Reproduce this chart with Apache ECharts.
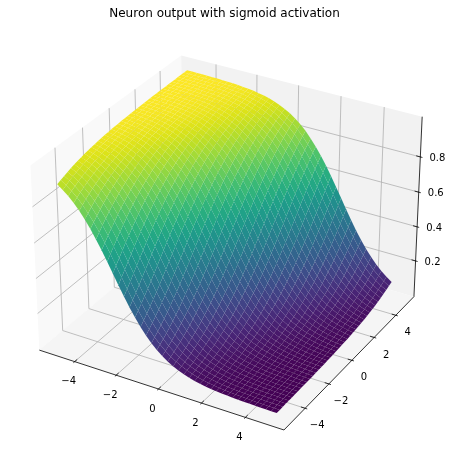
<!DOCTYPE html>
<html>
<head>
<meta charset="utf-8">
<style>html,body{margin:0;padding:0;background:#fff}#chart{width:454px;height:465px}</style>
<script src="https://cdn.jsdelivr.net/npm/echarts@6/dist/echarts.min.js"></script>
</head>
<body>
<div id="chart"></div>
<script>
// Sample positions of the surface mesh
const xValues = [-5,-4.75,-4.5,-4.25,-4,-3.75,-3.5,-3.25,-3,-2.75,-2.5,-2.25,-2,-1.75,-1.5,-1.25,-1,-0.75,-0.5,-0.25,0,0.25,0.5,0.75,1,1.25,1.5,1.75,2,2.25,2.5,2.75,3,3.25,3.5,3.75,4,4.25,4.5,4.75,5];
const yValues = [-5,-4.75,-4.5,-4.25,-4,-3.75,-3.5,-3.25,-3,-2.75,-2.5,-2.25,-2,-1.75,-1.5,-1.25,-1,-0.75,-0.5,-0.25,0,0.25,0.5,0.75,1,1.25,1.5,1.75,2,2.25,2.5,2.75,3,3.25,3.5,3.75,4,4.25,4.5,4.75,5];

// Neuron output in thousandths: one row per x, one column per y
const outputRows = [
[905,914,922,930,937,943,949,954,959,963,967,970,973,976,979,981,983,985,986,988,989,990,991,992,993,994,994,995,996,996,996,997,997,997,998,998,998,998,999,999,999],
[883,894,905,914,922,930,937,943,949,954,959,963,967,970,973,976,979,981,983,985,986,988,989,990,991,992,993,994,994,995,996,996,996,997,997,997,998,998,998,998,999],
[858,871,883,894,905,914,922,930,937,943,949,954,959,963,967,970,973,976,979,981,983,985,986,988,989,990,991,992,993,994,994,995,996,996,996,997,997,997,998,998,998],
[829,844,858,871,883,894,905,914,922,930,937,943,949,954,959,963,967,970,973,976,979,981,983,985,986,988,989,990,991,992,993,994,994,995,996,996,996,997,997,997,998],
[794,812,829,844,858,871,883,894,905,914,922,930,937,943,949,954,959,963,967,970,973,976,979,981,983,985,986,988,989,990,991,992,993,994,994,995,996,996,996,997,997],
[755,775,794,812,829,844,858,871,883,894,905,914,922,930,937,943,949,954,959,963,967,970,973,976,979,981,983,985,986,988,989,990,991,992,993,994,994,995,996,996,996],
[711,734,755,775,794,812,829,844,858,871,883,894,905,914,922,930,937,943,949,954,959,963,967,970,973,976,979,981,983,985,986,988,989,990,991,992,993,994,994,995,996],
[663,687,711,734,755,775,794,812,829,844,858,871,883,894,905,914,922,930,937,943,949,954,959,963,967,970,973,976,979,981,983,985,986,988,989,990,991,992,993,994,994],
[611,637,663,687,711,734,755,775,794,812,829,844,858,871,883,894,905,914,922,930,937,943,949,954,959,963,967,970,973,976,979,981,983,985,986,988,989,990,991,992,993],
[556,584,611,637,663,687,711,734,755,775,794,812,829,844,858,871,883,894,905,914,922,930,937,943,949,954,959,963,967,970,973,976,979,981,983,985,986,988,989,990,991],
[500,528,556,584,611,637,663,687,711,734,755,775,794,812,829,844,858,871,883,894,905,914,922,930,937,943,949,954,959,963,967,970,973,976,979,981,983,985,986,988,989],
[444,472,500,528,556,584,611,637,663,687,711,734,755,775,794,812,829,844,858,871,883,894,905,914,922,930,937,943,949,954,959,963,967,970,973,976,979,981,983,985,986],
[389,416,444,472,500,528,556,584,611,637,663,687,711,734,755,775,794,812,829,844,858,871,883,894,905,914,922,930,937,943,949,954,959,963,967,970,973,976,979,981,983],
[337,363,389,416,444,472,500,528,556,584,611,637,663,687,711,734,755,775,794,812,829,844,858,871,883,894,905,914,922,930,937,943,949,954,959,963,967,970,973,976,979],
[289,313,337,363,389,416,444,472,500,528,556,584,611,637,663,687,711,734,755,775,794,812,829,844,858,871,883,894,905,914,922,930,937,943,949,954,959,963,967,970,973],
[245,266,289,313,337,363,389,416,444,472,500,528,556,584,611,637,663,687,711,734,755,775,794,812,829,844,858,871,883,894,905,914,922,930,937,943,949,954,959,963,967],
[206,225,245,266,289,313,337,363,389,416,444,472,500,528,556,584,611,637,663,687,711,734,755,775,794,812,829,844,858,871,883,894,905,914,922,930,937,943,949,954,959],
[171,188,206,225,245,266,289,313,337,363,389,416,444,472,500,528,556,584,611,637,663,687,711,734,755,775,794,812,829,844,858,871,883,894,905,914,922,930,937,943,949],
[142,156,171,188,206,225,245,266,289,313,337,363,389,416,444,472,500,528,556,584,611,637,663,687,711,734,755,775,794,812,829,844,858,871,883,894,905,914,922,930,937],
[117,129,142,156,171,188,206,225,245,266,289,313,337,363,389,416,444,472,500,528,556,584,611,637,663,687,711,734,755,775,794,812,829,844,858,871,883,894,905,914,922],
[95,106,117,129,142,156,171,188,206,225,245,266,289,313,337,363,389,416,444,472,500,528,556,584,611,637,663,687,711,734,755,775,794,812,829,844,858,871,883,894,905],
[78,86,95,106,117,129,142,156,171,188,206,225,245,266,289,313,337,363,389,416,444,472,500,528,556,584,611,637,663,687,711,734,755,775,794,812,829,844,858,871,883],
[63,70,78,86,95,106,117,129,142,156,171,188,206,225,245,266,289,313,337,363,389,416,444,472,500,528,556,584,611,637,663,687,711,734,755,775,794,812,829,844,858],
[51,57,63,70,78,86,95,106,117,129,142,156,171,188,206,225,245,266,289,313,337,363,389,416,444,472,500,528,556,584,611,637,663,687,711,734,755,775,794,812,829],
[41,46,51,57,63,70,78,86,95,106,117,129,142,156,171,188,206,225,245,266,289,313,337,363,389,416,444,472,500,528,556,584,611,637,663,687,711,734,755,775,794],
[33,37,41,46,51,57,63,70,78,86,95,106,117,129,142,156,171,188,206,225,245,266,289,313,337,363,389,416,444,472,500,528,556,584,611,637,663,687,711,734,755],
[27,30,33,37,41,46,51,57,63,70,78,86,95,106,117,129,142,156,171,188,206,225,245,266,289,313,337,363,389,416,444,472,500,528,556,584,611,637,663,687,711],
[21,24,27,30,33,37,41,46,51,57,63,70,78,86,95,106,117,129,142,156,171,188,206,225,245,266,289,313,337,363,389,416,444,472,500,528,556,584,611,637,663],
[17,19,21,24,27,30,33,37,41,46,51,57,63,70,78,86,95,106,117,129,142,156,171,188,206,225,245,266,289,313,337,363,389,416,444,472,500,528,556,584,611],
[14,15,17,19,21,24,27,30,33,37,41,46,51,57,63,70,78,86,95,106,117,129,142,156,171,188,206,225,245,266,289,313,337,363,389,416,444,472,500,528,556],
[11,12,14,15,17,19,21,24,27,30,33,37,41,46,51,57,63,70,78,86,95,106,117,129,142,156,171,188,206,225,245,266,289,313,337,363,389,416,444,472,500],
[9,10,11,12,14,15,17,19,21,24,27,30,33,37,41,46,51,57,63,70,78,86,95,106,117,129,142,156,171,188,206,225,245,266,289,313,337,363,389,416,444],
[7,8,9,10,11,12,14,15,17,19,21,24,27,30,33,37,41,46,51,57,63,70,78,86,95,106,117,129,142,156,171,188,206,225,245,266,289,313,337,363,389],
[6,6,7,8,9,10,11,12,14,15,17,19,21,24,27,30,33,37,41,46,51,57,63,70,78,86,95,106,117,129,142,156,171,188,206,225,245,266,289,313,337],
[4,5,6,6,7,8,9,10,11,12,14,15,17,19,21,24,27,30,33,37,41,46,51,57,63,70,78,86,95,106,117,129,142,156,171,188,206,225,245,266,289],
[4,4,4,5,6,6,7,8,9,10,11,12,14,15,17,19,21,24,27,30,33,37,41,46,51,57,63,70,78,86,95,106,117,129,142,156,171,188,206,225,245],
[3,3,4,4,4,5,6,6,7,8,9,10,11,12,14,15,17,19,21,24,27,30,33,37,41,46,51,57,63,70,78,86,95,106,117,129,142,156,171,188,206],
[2,3,3,3,4,4,4,5,6,6,7,8,9,10,11,12,14,15,17,19,21,24,27,30,33,37,41,46,51,57,63,70,78,86,95,106,117,129,142,156,171],
[2,2,2,3,3,3,4,4,4,5,6,6,7,8,9,10,11,12,14,15,17,19,21,24,27,30,33,37,41,46,51,57,63,70,78,86,95,106,117,129,142],
[1,2,2,2,2,3,3,3,4,4,4,5,6,6,7,8,9,10,11,12,14,15,17,19,21,24,27,30,33,37,41,46,51,57,63,70,78,86,95,106,117],
[1,1,1,2,2,2,2,3,3,3,4,4,4,5,6,6,7,8,9,10,11,12,14,15,17,19,21,24,27,30,33,37,41,46,51,57,63,70,78,86,95]
];

const xTicks = [-4, -2, 0, 2, 4];
const yTicks = [-4, -2, 0, 2, 4];
const zTicks = [0.2, 0.4, 0.6, 0.8];
const xTickLabels = ['\u22124', '\u22122', '0', '2', '4'];
const yTickLabels = ['\u22124', '\u22122', '0', '2', '4'];
const zTickLabels = ['0.2', '0.4', '0.6', '0.8'];
const chartTitle = 'Neuron output with sigmoid activation';

// Extent of the 3D box in data units
const xRange = [-5.73, 5.73];
const yRange = [-5.73, 5.73];
const zRange = [-0.013, 1.024];

const viridis = ['#440154','#481567','#482677','#453781','#404788','#39568C','#33638D','#2D708E','#287D8E','#238A8D',
                 '#1F968B','#20A387','#29AF7F','#3CBB75','#55C667','#73D055','#95D840','#B8DE29','#DCE319','#FDE725'];

// Camera: elevation 30, azimuth -60, distance 10, box half-sizes for a 4:4:3 aspect
const BOX = [0.595, 0.595, 0.4465];
const DIST = 10;
const U = [0.8660254, 0.5, 0];
const V = [-0.25, 0.4330127, 0.8660254];
const N = [0.4330127, -0.75, 0.5];
const dot = (a, b) => a[0] * b[0] + a[1] * b[1] + a[2] * b[2];

function toBox(p) {
  const f = (v, r, h) => ((v - r[0]) / (r[1] - r[0]) * 2 - 1) * h;
  return [f(p[0], xRange, BOX[0]), f(p[1], yRange, BOX[1]), f(p[2], zRange, BOX[2])];
}
// Perspective projection onto the view plane
function project(p) {
  const b = toBox(p);
  const w = DIST - dot(N, b);
  return [dot(U, b) / w, dot(V, b) / w];
}
const depth = p => dot(N, toBox(p));

const [x0, x1] = xRange, [y0, y1] = yRange, [z0, z1] = zRange;

const cornerZ = (i, j) => outputRows[i][j] / 1000;
const cellCorners = (i, j) => [[i, j], [i + 1, j], [i + 1, j + 1], [i, j + 1]]
  .map(([a, b]) => [xValues[a], yValues[b], cornerZ(a, b)]);

// Mesh cells, painted from the far side of the box to the near side
const cells = [];
for (let i = 0; i < xValues.length - 1; i++) {
  for (let j = 0; j < yValues.length - 1; j++) {
    const c = cellCorners(i, j);
    const mean = (c[0][2] + c[1][2] + c[2][2] + c[3][2]) / 4;
    const d = c.reduce((s, p) => s + depth(p), 0) / 4;
    cells.push({ value: [i, j, mean], d });
  }
}
cells.sort((a, b) => a.d - b.d);
const zMeans = cells.map(c => c.value[2]);

const panes = [
  { pts: [[x0, y0, z0], [x0, y1, z0], [x0, y1, z1], [x0, y0, z1]], fill: '#f9f9f9' },
  { pts: [[x0, y1, z0], [x1, y1, z0], [x1, y1, z1], [x0, y1, z1]], fill: '#f2f2f2' },
  { pts: [[x0, y0, z0], [x1, y0, z0], [x1, y1, z0], [x0, y1, z0]], fill: '#f5f5f5' }
];

const gridPaths = [
  ...xTicks.map(t => [[t, y0, z0], [t, y1, z0], [t, y1, z1]]),
  ...yTicks.map(t => [[x1, t, z0], [x0, t, z0], [x0, t, z1]]),
  ...zTicks.map(t => [[x0, y0, t], [x0, y1, t], [x1, y1, t]])
];

const TICK_OUT = 0.095, TICK_IN = 0.19;
const axisPaths = [
  [[x0, y0, z0], [x1, y0, z0]],
  [[x1, y0, z0], [x1, y1, z0]],
  [[x1, y1, z0], [x1, y1, z1]],
  ...xTicks.map(t => [[t, y0 - TICK_OUT, z0], [t, y0 + TICK_IN, z0]]),
  ...yTicks.map(t => [[x1 + TICK_OUT, t, z0], [x1 - TICK_IN, t, z0]]),
  ...zTicks.map(t => [[x1 + TICK_OUT, y1, t], [x1 - TICK_IN, y1, t]])
];

const labels = [
  ...xTicks.map((t, i) => ({ p: [t, y0, z0], text: xTickLabels[i], dx: -6, dy: 20 })),
  ...yTicks.map((t, i) => ({ p: [x1, t, z0], text: yTickLabels[i], dx: 12, dy: 17.5 })),
  ...zTicks.map((t, i) => ({ p: [x1, y1, t], text: zTickLabels[i], dx: 17, dy: 1.5 }))
];

const toPixels = (api, pts) => pts.map(p => api.coord(project(p)));

const option = {
  animation: false,
  backgroundColor: '#fff',
  title: {
    text: chartTitle, left: 219.5, top: 3, textAlign: 'center',
    textStyle: { color: '#000', fontFamily: 'DejaVu Sans', fontSize: 12, fontWeight: 'normal' }
  },
  grid: { left: 0, top: 0, width: 454, height: 465 },
  xAxis: { type: 'value', show: false, min: -230.1 / 2355, max: 223.9 / 2355 },
  yAxis: { type: 'value', show: false, min: -231.2 / 2355, max: 233.8 / 2355 },
  visualMap: {
    show: false, type: 'continuous', seriesIndex: 3, dimension: 2,
    min: Math.min(...zMeans), max: Math.max(...zMeans),
    inRange: { color: viridis }
  },
  series: [
    {
      type: 'custom', silent: true, clip: false, data: panes.map((_, i) => [i]),
      renderItem: (params, api) => ({
        type: 'polygon',
        shape: { points: toPixels(api, panes[params.dataIndex].pts) },
        style: { fill: panes[params.dataIndex].fill }
      })
    },
    {
      type: 'custom', silent: true, clip: false, data: gridPaths.map((_, i) => [i]),
      renderItem: (params, api) => ({
        type: 'polyline',
        shape: { points: toPixels(api, gridPaths[params.dataIndex]) },
        style: { stroke: '#b0b0b0', lineWidth: 0.8, fill: null }
      })
    },
    {
      type: 'custom', silent: true, clip: false, data: axisPaths.map((_, i) => [i]),
      renderItem: (params, api) => ({
        type: 'polyline',
        shape: { points: toPixels(api, axisPaths[params.dataIndex]) },
        style: { stroke: '#000', lineWidth: 0.8, fill: null }
      })
    },
    {
      type: 'custom', silent: true, clip: false, progressive: 0, data: cells.map(c => c.value),
      renderItem: (params, api) => ({
        type: 'polygon',
        shape: { points: toPixels(api, cellCorners(api.value(0), api.value(1))) },
        style: { fill: api.visual('color') }
      })
    },
    {
      type: 'custom', silent: true, clip: false, data: labels.map((_, i) => [i]),
      renderItem: (params, api) => {
        const l = labels[params.dataIndex];
        const c = api.coord(project(l.p));
        return {
          type: 'text',
          style: {
            x: c[0] + l.dx, y: c[1] + l.dy, text: l.text, fill: '#000',
            font: '10px "DejaVu Sans"', align: 'center', verticalAlign: 'middle'
          }
        };
      }
    }
  ]
};

echarts.init(document.getElementById('chart'), null, { renderer: 'canvas' }).setOption(option);
</script>
</body>
</html>
